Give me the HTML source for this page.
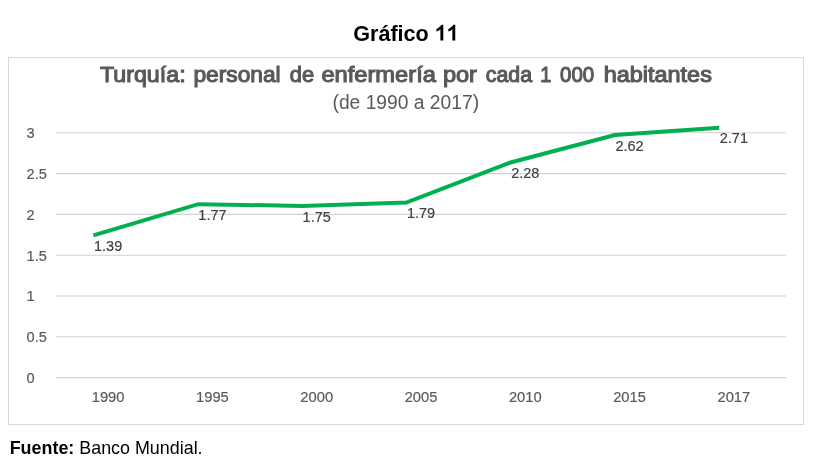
<!DOCTYPE html>
<html><head><meta charset="utf-8"><style>
html,body{margin:0;padding:0;background:#fff;width:821px;height:471px;overflow:hidden;font-family:"Liberation Sans", sans-serif;}
svg{display:block;will-change:transform}
</style></head><body>
<svg width="821" height="471" viewBox="0 0 821 471">
<text x="353.2" y="40.7" font-family='"Liberation Sans", sans-serif' font-weight="bold" font-size="22" fill="#000" textLength="75.6" lengthAdjust="spacingAndGlyphs">Gráfico</text>
<path d="M443.30 40.6 L440.40 40.6 L440.40 29.2 Q438.80 30.8 436.40 31.6 L436.40 28.9 Q438.20 28.2 439.70 26.8 Q440.90 25.7 441.50 24.8 L443.30 24.8 Z M455.25 40.6 L452.35 40.6 L452.35 29.2 Q450.75 30.8 448.35 31.6 L448.35 28.9 Q450.15 28.2 451.65 26.8 Q452.85 25.7 453.45 24.8 L455.25 24.8 Z" fill="#000"/>
<rect x="8.5" y="57.5" width="795" height="367" fill="none" stroke="#d9d9d9" stroke-width="1"/>
<text x="99.90" y="81.6" font-family='"Liberation Sans", sans-serif' font-size="22.2" fill="#595959" stroke="#595959" stroke-width="1.1" textLength="85.70" lengthAdjust="spacingAndGlyphs">Turquía:</text>
<text x="193.40" y="81.6" font-family='"Liberation Sans", sans-serif' font-size="22.2" fill="#595959" stroke="#595959" stroke-width="1.1" textLength="87.30" lengthAdjust="spacingAndGlyphs">personal</text>
<text x="289.70" y="81.6" font-family='"Liberation Sans", sans-serif' font-size="22.2" fill="#595959" stroke="#595959" stroke-width="1.1" textLength="24.40" lengthAdjust="spacingAndGlyphs">de</text>
<text x="321.40" y="81.6" font-family='"Liberation Sans", sans-serif' font-size="22.2" fill="#595959" stroke="#595959" stroke-width="1.1" textLength="114.50" lengthAdjust="spacingAndGlyphs">enfermería</text>
<text x="442.90" y="81.6" font-family='"Liberation Sans", sans-serif' font-size="22.2" fill="#595959" stroke="#595959" stroke-width="1.1" textLength="34.10" lengthAdjust="spacingAndGlyphs">por</text>
<text x="485.80" y="81.6" font-family='"Liberation Sans", sans-serif' font-size="22.2" fill="#595959" stroke="#595959" stroke-width="1.1" textLength="46.30" lengthAdjust="spacingAndGlyphs">cada</text>
<text x="540.30" y="81.6" font-family='"Liberation Sans", sans-serif' font-size="22.2" fill="#595959" stroke="#595959" stroke-width="1.1" textLength="11.00" lengthAdjust="spacingAndGlyphs">1</text>
<text x="560.10" y="81.6" font-family='"Liberation Sans", sans-serif' font-size="22.2" fill="#595959" stroke="#595959" stroke-width="1.1" textLength="34.10" lengthAdjust="spacingAndGlyphs">000</text>
<text x="603.70" y="81.6" font-family='"Liberation Sans", sans-serif' font-size="22.2" fill="#595959" stroke="#595959" stroke-width="1.1" textLength="108.20" lengthAdjust="spacingAndGlyphs">habitantes</text>
<text x="405.8" y="109.3" font-family='"Liberation Sans", sans-serif' font-size="19.6" fill="#595959" text-anchor="middle" textLength="146.6" lengthAdjust="spacingAndGlyphs">(de 1990 a 2017)</text>
<line x1="56" y1="132.80" x2="786" y2="132.80" stroke="#d2d2d2" stroke-width="1.1"/>
<text x="26.6" y="138.10" font-family='"Liberation Sans", sans-serif' font-size="15.5" fill="#595959" stroke="#595959" stroke-width="0.2" textLength="8.10" lengthAdjust="spacingAndGlyphs">3</text>
<line x1="56" y1="173.60" x2="786" y2="173.60" stroke="#d2d2d2" stroke-width="1.1"/>
<text x="26.6" y="178.90" font-family='"Liberation Sans", sans-serif' font-size="15.5" fill="#595959" stroke="#595959" stroke-width="0.2" textLength="20.25" lengthAdjust="spacingAndGlyphs">2.5</text>
<line x1="56" y1="214.40" x2="786" y2="214.40" stroke="#d2d2d2" stroke-width="1.1"/>
<text x="26.6" y="219.70" font-family='"Liberation Sans", sans-serif' font-size="15.5" fill="#595959" stroke="#595959" stroke-width="0.2" textLength="8.10" lengthAdjust="spacingAndGlyphs">2</text>
<line x1="56" y1="255.20" x2="786" y2="255.20" stroke="#d2d2d2" stroke-width="1.1"/>
<text x="26.6" y="260.50" font-family='"Liberation Sans", sans-serif' font-size="15.5" fill="#595959" stroke="#595959" stroke-width="0.2" textLength="20.25" lengthAdjust="spacingAndGlyphs">1.5</text>
<line x1="56" y1="296.00" x2="786" y2="296.00" stroke="#d2d2d2" stroke-width="1.1"/>
<text x="26.6" y="301.30" font-family='"Liberation Sans", sans-serif' font-size="15.5" fill="#595959" stroke="#595959" stroke-width="0.2" textLength="8.10" lengthAdjust="spacingAndGlyphs">1</text>
<line x1="56" y1="336.80" x2="786" y2="336.80" stroke="#d2d2d2" stroke-width="1.1"/>
<text x="26.6" y="342.10" font-family='"Liberation Sans", sans-serif' font-size="15.5" fill="#595959" stroke="#595959" stroke-width="0.2" textLength="20.25" lengthAdjust="spacingAndGlyphs">0.5</text>
<line x1="56" y1="377.60" x2="786" y2="377.60" stroke="#d2d2d2" stroke-width="1.1"/>
<text x="26.6" y="382.90" font-family='"Liberation Sans", sans-serif' font-size="15.5" fill="#595959" stroke="#595959" stroke-width="0.2" textLength="8.10" lengthAdjust="spacingAndGlyphs">0</text>
<text x="108.14" y="402.0" font-family='"Liberation Sans", sans-serif' font-size="15.5" fill="#595959" stroke="#595959" stroke-width="0.2" text-anchor="middle" textLength="32.75" lengthAdjust="spacingAndGlyphs">1990</text>
<text x="212.43" y="402.0" font-family='"Liberation Sans", sans-serif' font-size="15.5" fill="#595959" stroke="#595959" stroke-width="0.2" text-anchor="middle" textLength="32.75" lengthAdjust="spacingAndGlyphs">1995</text>
<text x="316.71" y="402.0" font-family='"Liberation Sans", sans-serif' font-size="15.5" fill="#595959" stroke="#595959" stroke-width="0.2" text-anchor="middle" textLength="32.75" lengthAdjust="spacingAndGlyphs">2000</text>
<text x="421.00" y="402.0" font-family='"Liberation Sans", sans-serif' font-size="15.5" fill="#595959" stroke="#595959" stroke-width="0.2" text-anchor="middle" textLength="32.75" lengthAdjust="spacingAndGlyphs">2005</text>
<text x="525.29" y="402.0" font-family='"Liberation Sans", sans-serif' font-size="15.5" fill="#595959" stroke="#595959" stroke-width="0.2" text-anchor="middle" textLength="32.75" lengthAdjust="spacingAndGlyphs">2010</text>
<text x="629.57" y="402.0" font-family='"Liberation Sans", sans-serif' font-size="15.5" fill="#595959" stroke="#595959" stroke-width="0.2" text-anchor="middle" textLength="32.75" lengthAdjust="spacingAndGlyphs">2015</text>
<text x="733.86" y="402.0" font-family='"Liberation Sans", sans-serif' font-size="15.5" fill="#595959" stroke="#595959" stroke-width="0.2" text-anchor="middle" textLength="32.75" lengthAdjust="spacingAndGlyphs">2017</text>
<path d="M93.4,235.3 L198.2,204.2 L302.0,205.9 L406.3,202.6 L510.6,162.5 L614.9,135.0 L719.2,127.7" fill="none" stroke="#00b050" stroke-width="4" stroke-linejoin="miter" stroke-linecap="butt"/>
<text x="108.14" y="250.90" font-family='"Liberation Sans", sans-serif' font-size="15.5" fill="#404040" stroke="#404040" stroke-width="0.2" text-anchor="middle" textLength="28.20" lengthAdjust="spacingAndGlyphs">1.39</text>
<text x="212.43" y="219.80" font-family='"Liberation Sans", sans-serif' font-size="15.5" fill="#404040" stroke="#404040" stroke-width="0.2" text-anchor="middle" textLength="28.20" lengthAdjust="spacingAndGlyphs">1.77</text>
<text x="316.71" y="221.50" font-family='"Liberation Sans", sans-serif' font-size="15.5" fill="#404040" stroke="#404040" stroke-width="0.2" text-anchor="middle" textLength="28.20" lengthAdjust="spacingAndGlyphs">1.75</text>
<text x="421.00" y="218.20" font-family='"Liberation Sans", sans-serif' font-size="15.5" fill="#404040" stroke="#404040" stroke-width="0.2" text-anchor="middle" textLength="28.20" lengthAdjust="spacingAndGlyphs">1.79</text>
<text x="525.29" y="178.10" font-family='"Liberation Sans", sans-serif' font-size="15.5" fill="#404040" stroke="#404040" stroke-width="0.2" text-anchor="middle" textLength="28.20" lengthAdjust="spacingAndGlyphs">2.28</text>
<text x="629.57" y="150.60" font-family='"Liberation Sans", sans-serif' font-size="15.5" fill="#404040" stroke="#404040" stroke-width="0.2" text-anchor="middle" textLength="28.20" lengthAdjust="spacingAndGlyphs">2.62</text>
<text x="733.86" y="143.30" font-family='"Liberation Sans", sans-serif' font-size="15.5" fill="#404040" stroke="#404040" stroke-width="0.2" text-anchor="middle" textLength="28.20" lengthAdjust="spacingAndGlyphs">2.71</text>
<text x="9.7" y="453.6" font-family='"Liberation Sans", sans-serif' font-size="17.9" fill="#000"><tspan font-weight="bold">Fuente:</tspan> Banco Mundial.</text>
</svg>
</body></html>
